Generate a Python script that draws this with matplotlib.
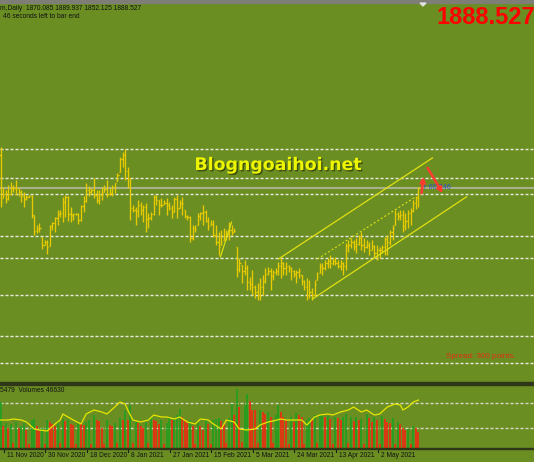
import matplotlib
matplotlib.use('Agg')
import matplotlib.pyplot as plt
import numpy as np
import pandas as pd
from matplotlib.collections import LineCollection
from matplotlib.patches import Rectangle, Polygon
import matplotlib.patheffects as pe

plt.rcParams['lines.scale_dashes'] = False

# ---------------- data ----------------
dates = pd.bdate_range('2020-11-09', '2021-05-19', freq='C',
                       weekmask='Sun Mon Tue Wed Thu Fri',
                       holidays=['2020-12-25', '2021-01-01', '2021-04-02'])

highs = [1965, 1890, 1884, 1894, 1899, 1894, 1903, 1888, 1884, 1880,
         1875, 1875, 1875, 1837, 1818, 1821, 1795, 1789, 1789, 1818,
         1823, 1833, 1846, 1846, 1871, 1875, 1873, 1852, 1840, 1840,
         1840, 1856, 1873, 1897, 1892, 1888, 1907, 1884, 1884, 1890,
         1894, 1903, 1888, 1894, 1897, 1916, 1947, 1956, 1962, 1928,
         1907, 1856, 1852, 1865, 1861, 1856, 1859, 1840, 1842, 1875,
         1875, 1865, 1869, 1865, 1869, 1861, 1856, 1871, 1875, 1865,
         1871, 1846, 1837, 1835, 1818, 1818, 1840, 1842, 1856, 1846,
         1833, 1827, 1827, 1818, 1804, 1808, 1812, 1808, 1823, 1818,
         1812, 1776, 1755, 1742, 1751, 1742, 1719, 1732, 1704, 1707,
         1717, 1723, 1736, 1738, 1736, 1732, 1736, 1747, 1755, 1747,
         1747, 1742, 1738, 1732, 1732, 1736, 1723, 1713, 1717, 1713,
         1698, 1713, 1728, 1745, 1745, 1751, 1755, 1760, 1755, 1757,
         1751, 1751, 1747, 1783, 1789, 1793, 1789, 1793, 1799, 1804,
         1793, 1789, 1785, 1789, 1780, 1780, 1776, 1780, 1795, 1799,
         1808, 1818, 1846, 1842, 1846, 1846, 1840, 1846, 1850, 1865,
         1873, 1889.937]
lows = [1852, 1869, 1859, 1865, 1875, 1880, 1875, 1873, 1861, 1852,
        1865, 1871, 1831, 1799, 1802, 1804, 1772, 1780, 1762, 1778,
        1808, 1804, 1818, 1833, 1823, 1833, 1825, 1823, 1827, 1837,
        1819, 1825, 1842, 1861, 1873, 1876, 1869, 1859, 1857, 1865,
        1880, 1871, 1875, 1873, 1878, 1901, 1918, 1928, 1903, 1888,
        1827, 1842, 1818, 1833, 1837, 1823, 1804, 1812, 1827, 1837,
        1856, 1837, 1852, 1857, 1837, 1846, 1831, 1842, 1831, 1850,
        1837, 1831, 1827, 1785, 1789, 1804, 1818, 1827, 1818, 1823,
        1808, 1818, 1795, 1780, 1761, 1780, 1789, 1789, 1789, 1799,
        1804, 1719, 1728, 1707, 1723, 1694, 1694, 1685, 1679, 1675,
        1675, 1685, 1707, 1723, 1694, 1713, 1723, 1723, 1717, 1723,
        1723, 1728, 1713, 1719, 1707, 1717, 1704, 1694, 1675, 1679,
        1675, 1685, 1713, 1726, 1723, 1732, 1736, 1736, 1742, 1742,
        1736, 1732, 1723, 1732, 1766, 1774, 1770, 1764, 1780, 1770,
        1766, 1774, 1761, 1770, 1755, 1751, 1755, 1764, 1761, 1761,
        1780, 1789, 1818, 1827, 1827, 1804, 1808, 1811, 1818, 1842,
        1848, 1852.125]
opens = [1950, 1869, 1877, 1866, 1877, 1888, 1887, 1887, 1880, 1872,
         1866, 1871, 1873, 1837, 1807, 1810, 1795, 1780, 1785, 1778,
         1815, 1821, 1831, 1838, 1840, 1862, 1870, 1838, 1836, 1839,
         1838, 1827, 1853, 1863, 1884, 1881, 1884, 1875, 1865, 1875,
         1880, 1885, 1876, 1879, 1890, 1901, 1918, 1942, 1950, 1920,
         1907, 1850, 1846, 1845, 1856, 1846, 1851, 1828, 1830, 1838,
         1870, 1865, 1855, 1857, 1860, 1855, 1850, 1842, 1866, 1850,
         1860, 1846, 1835, 1833, 1792, 1812, 1818, 1835, 1840, 1842,
         1826, 1818, 1820, 1798, 1786, 1780, 1789, 1797, 1800, 1808,
         1805, 1776, 1733, 1742, 1730, 1735, 1710, 1705, 1700, 1690,
         1685, 1700, 1712, 1725, 1730, 1720, 1728, 1730, 1740, 1745,
         1735, 1740, 1735, 1730, 1725, 1728, 1723, 1712, 1700, 1685,
         1690, 1685, 1713, 1726, 1740, 1735, 1745, 1750, 1745, 1750,
         1745, 1740, 1745, 1740, 1778, 1780, 1786, 1778, 1782, 1792,
         1780, 1776, 1780, 1770, 1778, 1765, 1770, 1770, 1775, 1790,
         1785, 1805, 1818, 1838, 1835, 1836, 1815, 1825, 1840, 1845,
         1860, 1870.085]
closes = [1862, 1877, 1866, 1877, 1888, 1887, 1887, 1880, 1872, 1866,
          1871, 1873, 1837, 1807, 1810, 1812, 1780, 1785, 1776, 1815,
          1821, 1831, 1838, 1840, 1862, 1870, 1838, 1836, 1839, 1838,
          1827, 1853, 1863, 1884, 1881, 1884, 1875, 1865, 1875, 1877,
          1885, 1876, 1879, 1890, 1897, 1912, 1942, 1950, 1920, 1914,
          1850, 1846, 1845, 1856, 1846, 1851, 1828, 1830, 1838, 1870,
          1865, 1855, 1856, 1860, 1855, 1850, 1842, 1866, 1848, 1860,
          1860, 1835, 1833, 1792, 1812, 1810, 1835, 1840, 1842, 1826,
          1815, 1820, 1798, 1786, 1775, 1785, 1797, 1800, 1808, 1805,
          1806, 1733, 1745, 1730, 1735, 1710, 1705, 1700, 1690, 1685,
          1700, 1712, 1725, 1730, 1720, 1728, 1730, 1740, 1745, 1735,
          1740, 1735, 1730, 1725, 1728, 1730, 1712, 1700, 1685, 1690,
          1685, 1705, 1720, 1740, 1735, 1745, 1750, 1745, 1750, 1745,
          1740, 1745, 1740, 1778, 1780, 1786, 1778, 1782, 1792, 1780,
          1776, 1780, 1770, 1778, 1765, 1770, 1770, 1775, 1790, 1785,
          1805, 1812, 1838, 1835, 1836, 1815, 1825, 1840, 1845, 1860,
          1868, 1888.527]

volumes = [138000, 66000, 75000, 60000, 72000, 15000, 78000, 60000, 66000, 75000,
           54000, 12000, 84000, 87000, 66000, 51000, 60000, 12000, 84000, 78000,
           72000, 66000, 81000, 15000, 87000, 81000, 84000, 72000, 69000, 12000,
           78000, 75000, 69000, 78000, 84000, 12000, 99000, 84000, 81000, 60000,
           12000, 84000, 69000, 66000, 75000, 15000, 90000, 84000, 114000, 84000,
           129000, 15000, 78000, 75000, 66000, 60000, 78000, 15000, 93000, 84000,
           81000, 72000, 84000, 12000, 75000, 93000, 84000, 90000, 99000, 117000,
           93000, 84000, 75000, 84000, 66000, 12000, 78000, 66000, 54000, 84000,
           72000, 12000, 84000, 87000, 90000, 81000, 72000, 15000, 90000, 132000,
           99000, 177000, 123000, 18000, 129000, 162000, 141000, 114000, 114000, 15000,
           114000, 108000, 102000, 108000, 93000, 15000, 99000, 129000, 108000, 93000,
           84000, 12000, 93000, 78000, 105000, 99000, 93000, 12000, 84000, 90000,
           87000, 99000, 15000, 96000, 99000, 93000, 96000, 87000, 12000, 93000,
           90000, 84000, 93000, 102000, 15000, 93000, 81000, 93000, 84000, 87000,
           12000, 102000, 90000, 78000, 93000, 84000, 12000, 96000, 87000, 78000,
           75000, 90000, 12000, 78000, 72000, 60000, 54000, 57000, 12000, 66000,
           60000, 46630]

vol_ma_idx = [0, 3, 5, 8, 10, 13, 15, 18, 21, 23, 24, 26, 28, 31, 33, 36, 39, 41,
              44, 46, 48, 49, 51, 54, 57, 59, 62, 64, 67, 69, 72, 75, 77, 80, 82,
              85, 87, 90, 92, 95, 98, 100, 103, 105, 108, 110, 113, 116, 118, 121,
              123, 126, 128, 131, 134, 136, 139, 141, 144, 146, 149, 152, 154, 155,
              157, 159, 161]
vol_ma = [84000, 84000, 87000, 84000, 78000, 57000, 54000, 51000, 72000, 84000,
          102000, 93000, 84000, 72000, 102000, 114000, 108000, 102000, 123000,
          138000, 132000, 114000, 84000, 78000, 84000, 99000, 93000, 93000, 87000,
          93000, 78000, 72000, 87000, 84000, 72000, 57000, 84000, 78000, 57000,
          54000, 57000, 69000, 78000, 81000, 87000, 84000, 84000, 84000, 69000,
          93000, 99000, 102000, 99000, 108000, 114000, 123000, 108000, 114000,
          99000, 102000, 123000, 132000, 129000, 114000, 123000, 138000, 144000]

level_prices = [1962, 1907, 1876, 1797, 1755, 1684, 1607, 1555]
last_price = 1888.527

channel_upper = [(107.1, 1753), (166.4, 1945)]
channel_lower = [(120.2, 1677), (179.5, 1871)]
channel_mid = [(122.1, 1753), (159.9, 1871)]
small_trend = [(84.7, 1757), (89.0, 1823)]
arrow_up = [(162.2, 1878), (162.9, 1909)]
arrow_down = [(164.5, 1926), (170.3, 1878)]

# ---------------- figure ----------------
W, H = 534, 462
BG = '#6B8E23'
SMALL = dict(family='Liberation Sans', fontsize=4.8, color='#111111')
fig = plt.figure(figsize=(W / 100, H / 100), dpi=100)
fig.patch.set_facecolor(BG)

PX_PER_BAR = 2.596
X0 = -0.2
XLIM = (X0, X0 + W / PX_PER_BAR)

main_top, main_bot = 0, 382
vol_top, vol_bot = 385, 448

def frac_y(py):
    return 1 - py / H

ax = fig.add_axes([0, frac_y(main_bot), 1, (main_bot - main_top) / H])
ax.set_facecolor(BG)
ax.set_xlim(*XLIM)
ax.set_ylim(2245 - 1.9 * 382, 2245)
ax.axis('off')

n = len(highs)
x = np.arange(n)
BAR = '#E8CA00'

for lv in level_prices:
    ax.axhline(lv, color='#E8E8DC', lw=1.0, dashes=(2.2, 1.4), zorder=1)
ax.axhline(last_price, color='#A8B08C', lw=1.5, zorder=1)

segs = []
for i in range(n):
    segs.append([(x[i], lows[i]), (x[i], highs[i])])
    segs.append([(x[i] - 0.45, opens[i]), (x[i], opens[i])])
    segs.append([(x[i], closes[i]), (x[i] + 0.45, closes[i])])
ax.add_collection(LineCollection(segs, colors=BAR, linewidths=0.95, zorder=3))

CH = '#E0E010'
for line in (channel_upper, channel_lower, small_trend):
    ax.plot([p[0] for p in line], [p[1] for p in line], color=CH, lw=0.9, zorder=4)
ax.plot([p[0] for p in channel_mid], [p[1] for p in channel_mid], color=CH, lw=0.8,
        dashes=(1.5, 1.5), zorder=4)

ax.text(163.3, 1889, 'r 60.246', color='#3050C8', family='Liberation Sans',
        fontsize=5.2, va='center', ha='left', zorder=5)

for a in (arrow_up, arrow_down):
    ax.annotate('', xy=a[1], xytext=a[0],
                arrowprops=dict(arrowstyle='-|>', color='#FF3B30', lw=1.8,
                                mutation_scale=7, shrinkA=0, shrinkB=0), zorder=6)

# ---------------- volume panel ----------------
axv = fig.add_axes([0, frac_y(vol_bot), 1, (vol_bot - vol_top) / H])
axv.set_facecolor(BG)
axv.set_xlim(*XLIM)
axv.set_ylim(0, 3000 * (vol_bot - vol_top))
axv.axis('off')
for lv in (60000, 135000):
    axv.axhline(lv, color='#D8D8C8', lw=1.0, dashes=(2.2, 1.4), zorder=1)
vcols = ['#20A020' if i == 0 or volumes[i] > volumes[i - 1] else '#F02810' for i in range(n)]
axv.vlines(x, 0, volumes, colors=vcols, lw=1.2, zorder=2)
axv.plot(vol_ma_idx, vol_ma, color='#E6E600', lw=0.9, zorder=3)
fig.text(0, frac_y(390), '5479  Volumes %d' % volumes[-1], va='center', ha='left', **SMALL)

# separators
fig.add_artist(Rectangle((0, frac_y(385)), 1, 3 / H, transform=fig.transFigure,
                         color='#2E3818', zorder=10))
fig.add_artist(Rectangle((0, frac_y(449)), 1, 1.2 / H, transform=fig.transFigure,
                         color='#2E3818', zorder=10))
fig.add_artist(Rectangle((0, frac_y(2.5)), 1, 2.5 / H, transform=fig.transFigure,
                         color='#7E7E76', zorder=10))
fig.add_artist(Polygon([[420 / W, frac_y(3)], [426 / W, frac_y(3)], [423 / W, frac_y(6)]],
                       closed=True, transform=fig.transFigure, color='#E0E0E0', zorder=11))

# date labels
for k in range(2, n, 16):
    xp = (k - X0) * PX_PER_BAR - 2
    fig.add_artist(plt.Line2D([xp / W, xp / W], [frac_y(449), frac_y(452)],
                              transform=fig.transFigure, color='#1A1A1A', lw=0.8))
    lab = '%d %s' % (dates[k].day, dates[k].strftime('%b %Y'))
    fig.text((xp + 3) / W, frac_y(455.5), lab, va='center', ha='left', **SMALL)

# texts
fig.text(0, frac_y(8.5), 'm,Daily  %.3f %.3f %.3f %.3f' % (opens[-1], highs[-1], lows[-1], closes[-1]),
         va='center', ha='left', **SMALL)
fig.text(3 / W, frac_y(16.5), '46 seconds left to bar end', va='center', ha='left', **SMALL)
fig.text(436 / W, frac_y(18), '%.3f' % closes[-1], fontsize=17, fontweight='bold',
         family='Liberation Sans', color='#FF0000', va='center', ha='left')
fig.text(278 / W, frac_y(165), 'Blogngoaihoi.net', fontsize=12.5, fontweight='bold',
         family='DejaVu Sans', color='#EEF500', va='center', ha='center',
         path_effects=[pe.withSimplePatchShadow(offset=(1, -1), shadow_rgbFace='#3A4A10', alpha=0.9)])
fig.text(446 / W, frac_y(357), 'Spread: 300 points.', family='Liberation Sans', fontsize=5.8,
         color='#E03010', va='center', ha='left')

fig.savefig('out.png', dpi=100, facecolor=BG)
